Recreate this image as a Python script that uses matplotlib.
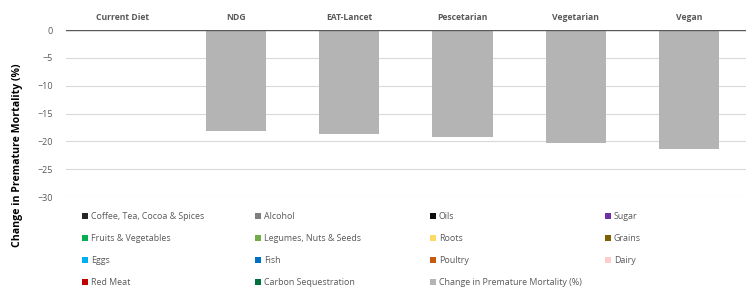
import matplotlib.pyplot as plt
import numpy as np

diets = ['Current Diet', 'NDG', 'EAT-Lancet', 'Pescetarian', 'Vegetarian', 'Vegan']
mortality = [0, -18.2, -18.6, -19.2, -20.2, -21.3]

# food groups (all zero here, they only show up in the legend)
groups = ['Coffee, Tea, Cocoa & Spices', 'Alcohol', 'Oils', 'Sugar',
          'Fruits & Vegetables', 'Legumes, Nuts & Seeds', 'Roots', 'Grains',
          'Eggs', 'Fish', 'Poultry', 'Dairy',
          'Red Meat', 'Carbon Sequestration']
group_colors = ['#262626', '#7f7f7f', '#0d0d0d', '#7030a0',
                '#00b050', '#70ad47', '#ffd966', '#7f6000',
                '#00b0f0', '#0070c0', '#c55a11', '#ffcccc',
                '#c00000', '#00703c']
group_values = np.zeros((len(groups), len(diets)))

plt.rcParams['font.family'] = ['Open Sans', 'DejaVu Sans']

fig = plt.figure(figsize=(7.46, 2.89), dpi=100)
ax = fig.add_axes([0.088, 0.318, 0.912, 0.578])

x = np.arange(len(diets))
handles = []
for name, col, vals in zip(groups, group_colors, group_values):
    handles.append(ax.bar(x, vals, width=0.53, color=col, label=name))
handles.append(ax.bar(x, mortality, width=0.53, color='#b4b4b4',
                      label='Change in Premature Mortality (%)'))

ax.set_xlim(-0.5, len(diets) - 0.5)
ax.set_ylim(-30, 0)
ax.set_yticks(np.arange(-30, 1, 5))
ax.yaxis.grid(True, color='#d9d9d9', linewidth=0.8)
ax.set_axisbelow(True)
ax.axhline(0, color='#595959', linewidth=1, zorder=3)
for s in ax.spines.values():
    s.set_visible(False)
ax.tick_params(length=0, labelsize=6.5, colors='#595959')
ax.tick_params(axis='x', pad=6)
ax.tick_params(axis='y', pad=9)
ax.xaxis.tick_top()
ax.set_xticks(x)
ax.set_xticklabels(diets, fontweight='bold', fontsize=6.2)
ax.set_ylabel('Change in Premature Mortality (%)', fontsize=7.6,
              fontweight='bold')
ax.yaxis.set_label_coords(-0.062, 0.25)

# legend: four columns, items go across the rows
col_x = [82, 255, 430, 605]
for c in range(4):
    idx = list(range(c, len(handles), 4))
    leg = fig.legend([handles[i] for i in idx], [handles[i].get_label() for i in idx],
                     loc='upper left', bbox_to_anchor=(col_x[c] / 746, 1 - 212 / 289),
                     frameon=False, fontsize=6.4, handlelength=0.7, handleheight=0.7,
                     handletextpad=0.3, labelspacing=1.47,
                     borderaxespad=0, borderpad=0)
    for t in leg.get_texts():
        t.set_color('#595959')

fig.savefig('out.png', dpi=100)
